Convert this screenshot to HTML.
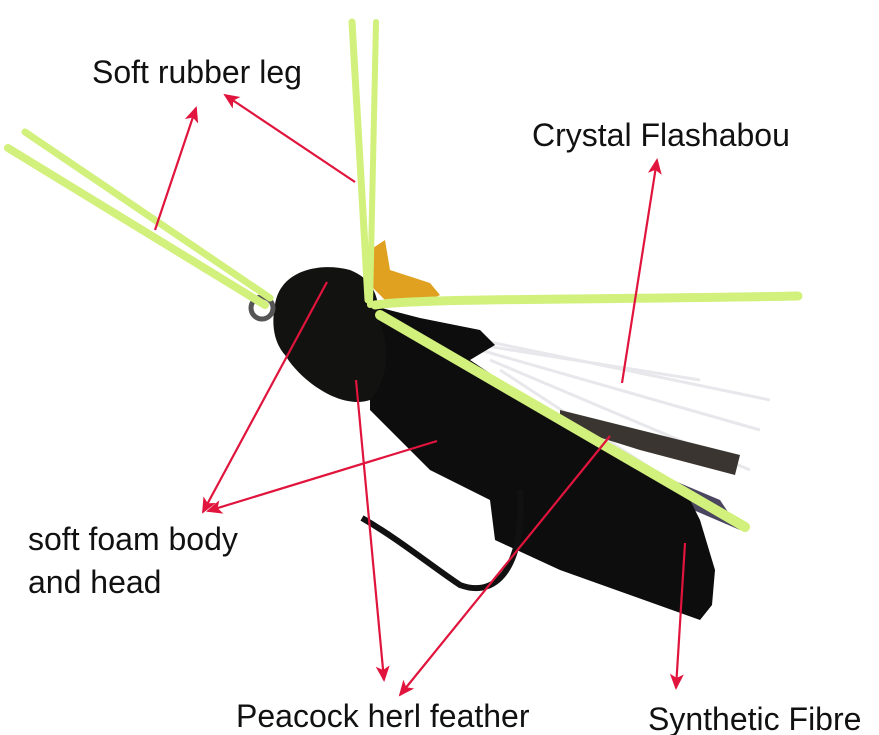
<!DOCTYPE html>
<html><head><meta charset="utf-8"><style>
html,body{margin:0;padding:0;background:#fff;}
svg{display:block;}
text{font-family:"Liberation Sans",sans-serif;font-size:32px;fill:#111;}
</style></head><body>
<svg width="879" height="735" viewBox="0 0 879 735">
<defs>
<marker id="b" markerWidth="16" markerHeight="14" refX="14" refY="7" orient="auto" markerUnits="userSpaceOnUse"><path d="M0,0 L16,7 L0,14 L4,7Z" fill="#e0143c"/></marker></defs>
<g stroke="#e6e6ea" stroke-width="3" opacity="0.9">
<line x1="480" y1="340" x2="770" y2="400"/><line x1="480" y1="350" x2="760" y2="430"/><line x1="490" y1="360" x2="750" y2="470"/><line x1="500" y1="370" x2="730" y2="520"/><line x1="480" y1="345" x2="700" y2="380"/>
</g>
<polygon points="560,410 740,455 735,475 640,450 560,425" fill="#3a3530"/>
<polygon points="530,420 720,500 740,530 600,470 520,440" fill="#4a4660"/>
<polygon points="370,305 420,318 480,330 495,345 470,360 500,380 560,420 690,500 700,520 715,570 712,605 700,620 560,570 495,540 490,500 430,470 400,440 370,410" fill="#0d0d0d"/>
<path d="M275,305 C280,270 320,262 350,270 C375,280 380,300 378,320 C390,340 390,380 370,400 C340,410 300,380 285,355 C272,340 272,320 275,305Z" fill="#121210"/>
<circle cx="262" cy="308" r="11" fill="none" stroke="#555" stroke-width="5"/>
<path d="M362,518 C400,540 430,565 460,585 C500,600 525,560 520,490" fill="none" stroke="#111" stroke-width="6"/>
<polygon points="370,250 385,240 390,270 430,283 440,295 420,305 385,300 370,285" fill="#e0a020"/>
<g stroke="#d2f07c" stroke-linecap="round" fill="none">
<line x1="8" y1="148" x2="265" y2="305" stroke-width="8"/>
<line x1="25" y1="132" x2="270" y2="298" stroke-width="7"/>
<line x1="352" y1="22" x2="368" y2="300" stroke-width="7"/>
<line x1="376" y1="22" x2="370" y2="305" stroke-width="6"/>
<path d="M375,305 C420,298 600,300 798,296" stroke-width="9"/>
<line x1="380" y1="315" x2="745" y2="527" stroke-width="10"/>
</g>
<g stroke="#e0143c" stroke-width="2.2" fill="none">
<line x1="155" y1="230" x2="196" y2="108" marker-end="url(#b)"/>
<line x1="355" y1="182" x2="225" y2="95" marker-end="url(#b)"/>
<line x1="622" y1="383" x2="657" y2="160" marker-end="url(#b)"/>
<line x1="327" y1="282" x2="203" y2="512" marker-end="url(#b)"/>
<line x1="437" y1="441" x2="208" y2="511" marker-end="url(#b)"/>
<line x1="356" y1="380" x2="384" y2="680" marker-end="url(#b)"/>
<line x1="610" y1="436" x2="400" y2="695" marker-end="url(#b)"/>
<line x1="685" y1="543" x2="676" y2="688" marker-end="url(#b)"/>
</g>
<text x="92" y="83">Soft rubber leg</text>
<text x="532" y="146">Crystal Flashabou</text>
<text x="28" y="550">soft foam body</text>
<text x="28" y="593">and head</text>
<text x="236" y="727">Peacock herl feather</text>
<text x="648" y="730">Synthetic Fibre</text>
</svg>
</body></html>
